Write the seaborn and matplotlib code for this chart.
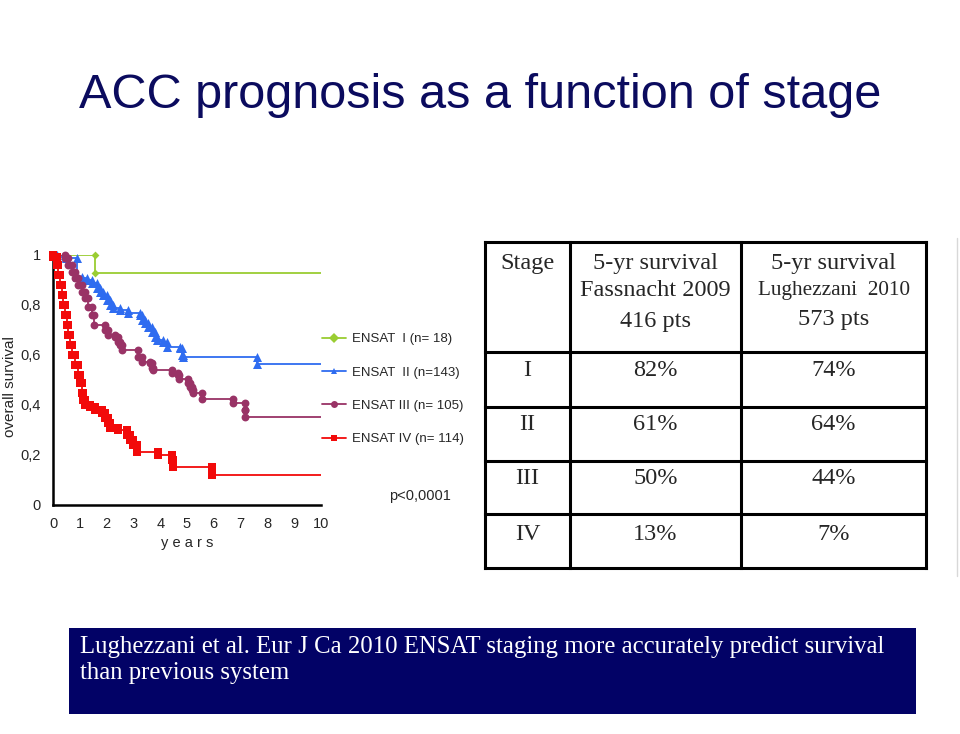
import matplotlib
matplotlib.use("Agg")
import matplotlib.pyplot as plt
import pandas as pd
import seaborn as sns
from matplotlib.lines import Line2D
from matplotlib.patches import Rectangle

# Kaplan-Meier curves: event time (years) and survival after it
stage_labels = ["ENSAT  I (n= 18)", "ENSAT  II (n=143)", "ENSAT III (n= 105)", "ENSAT IV (n= 114)"]

t1 = [1.58]
s1 = [0.925]

t2 = [0.15, 0.5, 0.88, 1.07, 1.26, 1.44, 1.63, 1.75, 1.88, 2.0, 2.13, 2.25, 2.5, 2.8,
      3.25, 3.32, 3.42, 3.54, 3.68, 3.8, 3.87, 4.1, 4.24, 4.74, 4.8, 4.86, 7.62]
s2 = [0.99, 0.985, 0.912, 0.907, 0.90, 0.887, 0.867, 0.852, 0.839, 0.819, 0.799, 0.787, 0.779, 0.767,
      0.759, 0.739, 0.727, 0.711, 0.692, 0.672, 0.659, 0.652, 0.632, 0.627, 0.60, 0.593, 0.563]

t3 = [0.45, 0.57, 0.70, 0.82, 0.94, 1.07, 1.19, 1.32, 1.44, 1.54, 1.94, 2.06, 2.31, 2.41, 2.5, 2.59,
      3.18, 3.31, 3.62, 3.68, 3.74, 4.43, 4.68, 4.72, 5.05, 5.11, 5.18, 5.24, 5.57, 6.7, 7.16, 7.18]
s3 = [0.987, 0.959, 0.932, 0.906, 0.879, 0.852, 0.826, 0.792, 0.759, 0.719, 0.699, 0.679, 0.672, 0.652, 0.639, 0.619,
      0.592, 0.572, 0.567, 0.547, 0.539, 0.527, 0.519, 0.503, 0.487, 0.473, 0.459, 0.447, 0.422, 0.409, 0.38, 0.353]

t4 = [0.01, 0.14, 0.2, 0.26, 0.32, 0.38, 0.45, 0.51, 0.57, 0.63, 0.72, 0.82, 0.94, 1.0, 1.07, 1.13,
      1.19, 1.38, 1.57, 1.82, 1.94, 2.06, 2.12, 2.44, 2.75, 2.87, 3.0, 3.12, 3.93, 4.43, 4.46, 5.92]
s4 = [0.99, 0.959, 0.919, 0.879, 0.839, 0.799, 0.759, 0.719, 0.679, 0.639, 0.599, 0.559, 0.519, 0.486, 0.446, 0.419,
      0.40, 0.393, 0.38, 0.366, 0.346, 0.326, 0.306, 0.30, 0.28, 0.26, 0.24, 0.213, 0.20, 0.18, 0.153, 0.12]

follow_up = 10

# table on the right
table_header = [["Stage"], ["5-yr survival", "Fassnacht 2009", "416 pts"], ["5-yr survival", "Lughezzani  2010", "573 pts"]]
table_stages = ["I", "II", "III", "IV"]
fassnacht_5yr = ["82%", "61%", "50%", "13%"]
lughezzani_5yr = ["74%", "64%", "44%", "7%"]

title = "ACC prognosis as a function of stage"
footnote = ["Lughezzani et al. Eur J Ca 2010 ENSAT staging more accurately predict survival",
            "than previous system"]

palette = dict(zip(stage_labels, ["#9ACD32", "#2F6CF0", "#993366", "#F20A0A"]))
marker_map = dict(zip(stage_labels, ["D", "^", "o", "s"]))
marker_size = dict(zip(stage_labels, [16, 42, 32, 30]))

sns.set_style("white")
plt.rcParams["font.family"] = ["Liberation Sans", "DejaVu Sans"]

line_rows = []
mark_rows = []
for label, ts, ss in zip(stage_labels, [t1, t2, t3, t4], [s1, s2, s3, s4]):
    line_rows.append((label, 0.0, 1.0))
    prev = 1.0
    for t, s in zip(ts, ss):
        line_rows.append((label, t, s))
        mark_rows.append((label, t, prev))
        mark_rows.append((label, t, s))
        prev = s
    line_rows.append((label, follow_up, prev))
lines = pd.DataFrame(line_rows, columns=["stage", "years", "survival"])
marks = pd.DataFrame(mark_rows, columns=["stage", "years", "survival"])

W, H = 960, 734
fig = plt.figure(figsize=(W / 100, H / 100), dpi=100)

# overlay in pixel coordinates for the table and the text box
tax = fig.add_axes([0, 0, 1, 1])
tax.set_xlim(0, W)
tax.set_ylim(H, 0)
tax.axis("off")

ax = fig.add_axes([53 / W, 1 - 505 / H, 268 / W, 250.3 / H])
ax.patch.set_alpha(0)
for label in stage_labels:
    sub_line = lines[lines["stage"] == label]
    sub_mark = marks[marks["stage"] == label]
    sns.lineplot(data=sub_line, x="years", y="survival", color=palette[label], estimator=None,
                 sort=False, drawstyle="steps-post", linewidth=1.3, ax=ax, legend=False)
    sns.scatterplot(data=sub_mark, x="years", y="survival", color=palette[label],
                    marker=marker_map[label], s=marker_size[label], linewidth=0, ax=ax,
                    legend=False, clip_on=False, zorder=3)

ax.set_xlim(0, 10)
ax.set_ylim(0, 1)
ax.set_xticks(range(0, 11))
ax.set_yticks([0, 0.2, 0.4, 0.6, 0.8, 1])
ax.set_yticklabels(["0", "0,2", "0,4", "0,6", "0,8", "1"])
ax.tick_params(direction="out", length=5, width=1.5, labelsize=10.5, pad=4, color="black")
for side in ["top", "right"]:
    ax.spines[side].set_visible(False)
for side in ["left", "bottom"]:
    ax.spines[side].set_linewidth(1.8)
    ax.spines[side].set_color("black")
ax.set_xlabel("y e a r s", fontsize=10.5, labelpad=3)
ax.set_ylabel("overall survival", fontsize=11)
ax.yaxis.set_label_coords(-0.136, 0.475)
ax.grid(False)

handles = [Line2D([0], [0], color=palette[l], marker=marker_map[l], markersize=5, linewidth=1.3,
                  markeredgewidth=0) for l in stage_labels]
ax.legend(handles, stage_labels, loc="upper left", bbox_to_anchor=(322 / W, 1 - 333 / H),
          bbox_transform=fig.transFigure, frameon=False, fontsize=9.5, handlelength=1.8,
          handletextpad=0.5, labelspacing=1.6, borderpad=0, borderaxespad=0)
fig.text(420 / W, 1 - 496 / H, "p<0,0001", ha="center", va="center", fontsize=10.5)

fig.text(0.5, 1 - 96 / H, title, ha="center", va="center", fontsize=35, color="#0B0B5E")

# table
x_edges = [485, 570, 741, 926]
y_edges = [242, 352, 407, 461, 514, 568]
lw = 2.2
for x in x_edges:
    tax.plot([x, x], [y_edges[0], y_edges[-1]], color="black", linewidth=lw, solid_capstyle="projecting")
for y in y_edges:
    tax.plot([x_edges[0], x_edges[-1]], [y, y], color="black", linewidth=lw, solid_capstyle="projecting")
tax.plot([957, 957], [238, 576], color="#d8d8d8", linewidth=1)

serif = ["Liberation Serif", "DejaVu Serif"]
col_centers = [(x_edges[i] + x_edges[i + 1]) / 2 for i in range(3)]
header_y = [[263], [263, 291, 322], [263, 290, 319]]
header_size = [[17.5], [17.5, 17.5, 17.5], [17.5, 15.3, 17.5]]
for cx, lines_txt, ys, fs in zip(col_centers, table_header, header_y, header_size):
    for txt, y, f in zip(lines_txt, ys, fs):
        tax.text(cx, y, txt, ha="center", va="center", fontsize=f, family=serif)
row_y = [371, 425, 479, 534]
for y, st, f, l in zip(row_y, table_stages, fassnacht_5yr, lughezzani_5yr):
    for cx, txt in zip(col_centers, [st, f, l]):
        tax.text(cx, y, txt, ha="center", va="center", fontsize=17.5, family=serif)

# reference box
tax.add_patch(Rectangle((69, 628), 847, 86, facecolor="#020266", edgecolor="none"))
for i, txt in enumerate(footnote):
    tax.text(80, 647 + 26 * i, txt, ha="left", va="center", fontsize=17.8, color="white", family=serif)

fig.savefig("out.png", dpi=100)
